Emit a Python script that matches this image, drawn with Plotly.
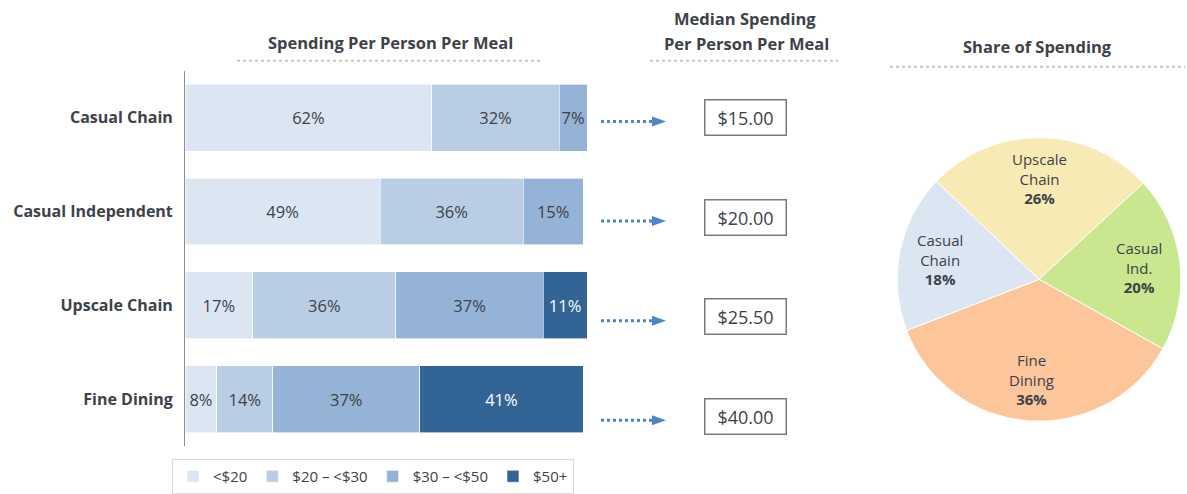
import math
import plotly.graph_objects as go

# ---------------- data ----------------
categories = ["Casual Chain", "Casual Independent", "Upscale Chain", "Fine Dining"]
bands = ["<$20", "$20 – <$30", "$30 – <$50", "$50+"]
share_lt20 = [62, 49, 17, 8]
share_20_30 = [32, 36, 36, 14]
share_30_50 = [7, 15, 37, 37]
share_50p = [0, 0, 11, 41]
median_spend = [15.00, 20.00, 25.50, 40.00]

pie_labels = ["Upscale<br>Chain", "Casual<br>Ind.", "Fine<br>Dining", "Casual<br>Chain"]
pie_values = [26, 20, 36, 18]

# ---------------- style ----------------
W, H = 1187, 494
FONT = "Open Sans, Segoe UI, sans-serif"
DARK = "#3d4249"
bar_colors = ["#dce6f2", "#b9cde5", "#95b3d7", "#336496"]
text_colors = [DARK, DARK, DARK, "#ffffff"]
pie_colors = ["#f8eab4", "#c9e78e", "#fdc59a", "#dce6f2"]
PIE_ROT = -46.3


def px(x):
    return x / W


def py(y):
    return 1 - y / H


fig = go.Figure()
series = [share_lt20, share_20_30, share_30_50, share_50p]
for name, vals, col, tcol in zip(bands, series, bar_colors, text_colors):
    fig.add_trace(go.Bar(
        y=categories, x=vals, name=name, orientation="h",
        marker=dict(color=col, line=dict(color="white", width=0.6)),
        text=[f"{v}%" if v > 0 else "" for v in vals],
        textposition="inside", insidetextanchor="middle", textangle=0,
        textfont=dict(color=tcol, size=16.5, family=FONT),
        hoverinfo="skip", cliponaxis=False,
    ))

pie_l, pie_r, pie_t, pie_b = 896, 1182, 138, 423
fig.add_trace(go.Pie(
    labels=pie_labels, values=pie_values, sort=False, direction="clockwise",
    rotation=PIE_ROT,
    marker=dict(colors=pie_colors, line=dict(color="white", width=1)),
    textinfo="none",
    domain=dict(x=[px(pie_l), px(pie_r)], y=[py(pie_b), py(pie_t)]),
    showlegend=False, hoverinfo="skip",
))

shapes = []
annotations = []


def title(text, x, y):
    annotations.append(dict(text=f"<b>{text}</b>", x=px(x), y=py(y),
                            xref="paper", yref="paper", showarrow=False,
                            xanchor="center", yanchor="middle",
                            font=dict(size=16.5, color=DARK, family=FONT)))


title("Spending Per Person Per Meal", 390, 43)
title("Median Spending", 745, 19)
title("Per Person Per Meal", 746, 44)
title("Share of Spending", 1037, 47)

for x0, x1, yy in [(237, 540, 61), (650, 838, 61), (890, 1185, 67)]:
    shapes.append(dict(type="line", xref="paper", yref="paper",
                       x0=px(x0), x1=px(x1), y0=py(yy), y1=py(yy),
                       line=dict(color="#c4c4c4", width=2, dash="dot")))

# arrows and median boxes
for i, m in enumerate(median_spend):
    ya = 122 + 100 * i
    shapes.append(dict(type="line", xref="paper", yref="paper",
                       x0=px(601), x1=px(653), y0=py(ya), y1=py(ya),
                       line=dict(color="#4a86c8", width=3, dash="dot")))
    shapes.append(dict(type="path", xref="paper", yref="paper",
                       path=f"M {px(652)} {py(ya-5)} L {px(666)} {py(ya)} L {px(652)} {py(ya+5)} Z",
                       fillcolor="#4a86c8", line=dict(width=0)))
    yb = 118 + 100 * i
    annotations.append(dict(text=f"${m:.2f}", x=px(745.5), y=py(yb),
                            xref="paper", yref="paper", showarrow=False,
                            xanchor="center", yanchor="middle",
                            width=78, height=32, borderpad=1,
                            bordercolor="#7a7a7a", borderwidth=1.5, bgcolor="white",
                            font=dict(size=18, color=DARK, family=FONT)))

# pie labels placed at slice mid-angles
cx, cy = (pie_l + pie_r) / 2, (pie_t + pie_b) / 2
rad = min(pie_r - pie_l, pie_b - pie_t) / 2
total = sum(pie_values)
cum = 0.0
for lab, v in zip(pie_labels, pie_values):
    mid = math.radians(PIE_ROT + (cum + v / 2) / total * 360)
    cum += v
    lx = cx + 0.71 * rad * math.sin(mid)
    ly = cy - 0.71 * rad * math.cos(mid)
    annotations.append(dict(text=f"{lab}<br><b>{v}%</b>", x=px(lx), y=py(ly),
                            xref="paper", yref="paper", showarrow=False,
                            xanchor="center", yanchor="middle",
                            font=dict(size=15, color=DARK, family=FONT)))

fig.update_layout(
    width=W, height=H,
    margin=dict(l=0, r=0, t=0, b=0),
    paper_bgcolor="white", plot_bgcolor="white",
    barmode="stack", bargap=0.287,
    uniformtext=dict(minsize=16, mode="show"),
    font=dict(family=FONT, color=DARK),
    xaxis=dict(domain=[px(185), px(587)], range=[0, 101], visible=False, fixedrange=True),
    yaxis=dict(domain=[py(448), py(71)], categoryorder="array", categoryarray=categories,
               range=[3.5, -0.5], showline=True, linecolor="#8c8c8c", linewidth=1,
               showgrid=False, zeroline=False, ticks="", ticklabelstandoff=8,
               tickfont=dict(size=16, color=DARK, family=FONT),
               tickvals=categories, ticktext=[f"<b>{c}</b>" for c in categories]),
    legend=dict(orientation="h", x=px(172), y=py(461), xanchor="left", yanchor="top",
                bordercolor="#d9d9d9", borderwidth=1, font=dict(size=15, color=DARK, family=FONT),
                traceorder="normal", itemwidth=30),
    shapes=shapes, annotations=annotations,
)

fig.write_html("out.html", config={"displayModeBar": False},
               post_script="document.body.style.margin='0';")
